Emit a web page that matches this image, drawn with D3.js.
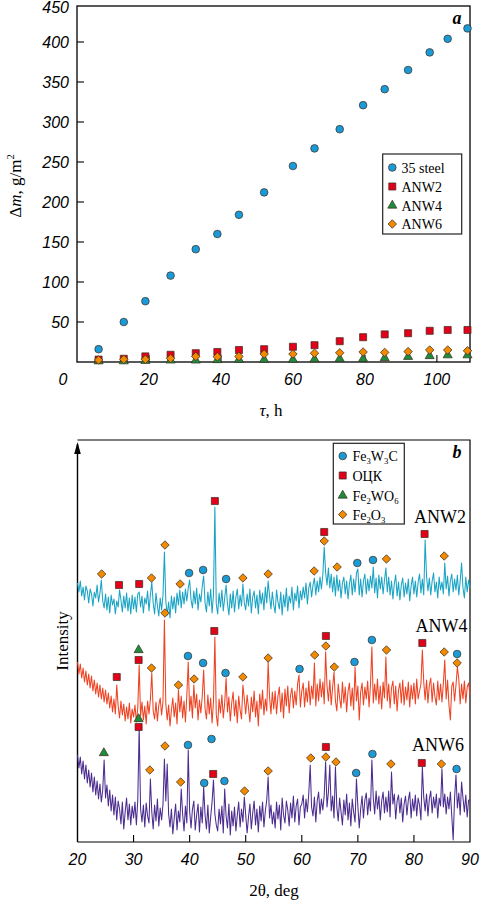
<!DOCTYPE html>
<html><head><meta charset="utf-8">
<script src="https://cdn.jsdelivr.net/npm/d3@7"></script>
<style>body{margin:0;background:#fff}svg{display:block}</style>
</head><body>
<script>
// ---------- Panel a data ----------
const tau = [6, 13, 19, 26, 33, 39, 45, 52, 60, 66, 73, 79.5, 85.5, 92, 98, 103, 108.5];
const steel35 = [16, 50, 76, 108, 141, 160, 184, 212, 245, 267, 291, 321, 341, 365, 387, 404, 417];
const anw2 = [3, 4, 7, 9, 11, 12.5, 15, 16, 19, 21, 26, 31, 34.5, 36, 39, 40, 40];
const anw4 = [1, 1, 1.5, 2, 2, 2.5, 3, 3, 3, 3.5, 4, 4, 5, 6.5, 7.5, 8.5, 8.5];
const anw6 = [2.5, 3.3, 3.3, 4.5, 7, 6.5, 7, 10, 10, 11, 11.5, 12.5, 12, 13, 15, 15, 14];
const seriesNamesA = ["35 steel", "ANW2", "ANW4", "ANW6"];
const xTicksA = [20, 40, 60, 80, 100];
const yTicksA = [50, 100, 150, 200, 250, 300, 350, 400];

// ---------- Panel b data (XRD, 2θ = 20..90 step 0.25) ----------
const thetaStart = 20, thetaStep = 0.25;
const xrdANW2 = [
39,30,41,26,35,22,36,31,19,33,28,16,30,24,37,20,29,42,21,14,
28,12,25,9,27,17,23,8,21,15,32,22,10,26,14,29,11,24,8,27,
13,25,10,28,30,15,26,9,24,18,31,11,27,40,19,8,29,16,6,24,
12,27,70,21,7,20,4,26,13,25,9,29,17,32,14,30,18,33,21,34,
42,22,14,31,18,34,12,28,20,36,46,19,10,30,16,33,9,27,115,18,
8,29,15,32,11,24,37,18,7,28,14,31,10,25,33,13,27,16,38,19,
12,28,16,33,9,25,31,14,27,8,32,18,29,12,35,19,41,26,13,30,
17,9,32,20,13,30,7,27,15,34,11,26,19,35,12,29,21,36,14,31,
22,35,24,39,18,34,40,25,37,44,27,41,30,45,33,47,75,50,37,54,
34,48,30,45,26,47,31,42,24,39,45,28,41,23,38,47,27,43,30,49,
53,27,43,25,41,48,28,43,31,46,34,55,29,44,24,47,33,45,28,42,
54,30,45,27,41,23,38,47,26,40,22,37,44,25,39,28,43,21,36,45,
28,41,25,40,48,29,43,27,82,46,31,44,27,41,49,30,40,24,45,32,
40,28,59,33,46,26,41,48,30,43,32,47,27,41,59,34,24,45,30,42,34];
const xrdANW4 = [
70,58,68,54,64,50,61,47,58,44,56,41,52,38,49,35,47,33,44,30,
42,28,39,24,36,20,33,18,47,26,14,31,17,28,11,25,13,29,9,23,
15,27,10,24,67,16,30,12,26,8,31,18,33,59,21,13,30,11,27,34,
17,31,112,28,12,27,6,22,34,15,29,8,42,20,36,14,31,10,37,70,
21,36,14,47,24,38,12,32,19,36,62,23,13,37,18,34,9,30,95,17,
6,33,19,37,14,29,54,20,35,11,29,40,16,32,9,36,22,13,47,33,
18,37,24,10,35,20,41,15,31,6,38,23,42,17,33,21,70,35,18,40,
23,41,18,36,45,20,39,14,43,26,46,19,37,44,24,41,27,48,57,25,
41,49,25,44,30,51,27,46,33,69,26,48,31,53,35,50,28,80,46,31,
52,27,45,60,31,21,48,34,24,50,29,45,20,41,49,26,44,22,65,31,
46,12,40,49,27,45,33,51,25,47,85,29,48,32,53,28,46,23,50,34,
75,31,48,24,44,51,28,46,21,42,49,29,52,27,45,32,50,25,47,33,
49,28,53,33,41,48,82,50,32,52,29,47,54,30,49,35,27,51,32,48,
30,49,72,33,52,27,12,46,50,31,47,65,53,28,48,33,51,29,45,49,37];
const xrdANW6 = [
87,74,85,68,81,63,77,59,72,55,69,50,65,47,61,43,58,40,52,82,
44,57,36,52,31,47,27,45,22,41,33,18,40,13,30,44,22,38,17,36,
24,40,17,42,115,33,20,37,15,39,26,19,63,30,13,37,21,43,16,34,
22,38,83,41,78,28,15,33,8,24,38,12,31,20,53,28,11,36,19,92,
31,14,33,41,12,27,38,10,35,19,55,27,13,37,9,25,40,62,28,17,
11,33,18,36,9,53,26,14,38,7,31,16,35,11,27,40,15,33,20,45,
27,9,25,38,13,29,41,17,33,10,36,21,40,15,31,42,65,24,37,18,
30,14,40,23,37,12,44,27,19,41,32,16,39,24,46,20,36,43,17,35,
38,47,24,43,30,49,77,35,26,45,20,41,50,28,43,32,47,80,35,50,
77,31,46,24,75,35,21,44,30,17,42,27,48,22,39,16,43,30,20,63,
36,14,33,46,24,42,49,27,44,31,82,44,28,51,33,46,22,41,50,29,
45,30,51,25,70,38,48,23,41,47,29,44,20,38,46,27,42,50,24,43,
31,47,26,44,37,22,75,45,31,48,26,43,51,29,45,34,48,24,44,36,
73,35,48,28,45,33,50,26,2,44,67,34,49,27,60,44,30,47,25,42,42];
const traceNames = ["ANW2", "ANW4", "ANW6"];
const traceOffsets = [220, 110, 0];

// phase markers: 2θ and level (same intensity units as the stacked traces)
const fe3w3cTheta = [39.9,42.4,46.5,69.9,72.7, 39.7,42.4,46.4,59.6,69.4,72.5,87.7, 39.7,43.9,42.6,46.2,69.7,72.6,87.6];
const fe3w3cLevel = [269,272,263,279,282, 186,179,169,173,180,202,188, 97,103,59,61,69,88,73];
const bccTheta = [27.4,31.0,44.5,64.0,81.9, 27.0,30.9,44.4,64.3,81.5, 30.9,44.2,64.3,81.4];
const bccLevel = [257,258,341,310,308, 165,182,211,206,199, 115,68,95,79];
const fe2wo6Theta = [30.9, 30.9, 24.7];
const fe2wo6Level = [192, 123, 89];
const fe2o3Theta = [24.3,33.2,35.6,38.3,49.5,54.0,62.2,64.0,66.3,75.1,85.4,
  35.6,33.2,38.0,40.8,49.5,54.0,62.3,64.3,65.8,75.1,85.4,87.7,
  35.6,32.9,38.4,49.8,54.0,61.6,64.3,66.1,75.9,84.9];
const fe2o3Level = [268,264,297,258,264,268,271,301,275,283,286,
  229,174,157,163,165,184,187,196,175,192,190,179,
  96,72,60,51,71,84,85,80,78,78];
const xTicksB = [20, 30, 40, 50, 60, 70, 80, 90];

// ---------- styles ----------
const C = {blue:"#1a9bd7", red:"#e2001a", green:"#1d8c3c", orange:"#f18a00",
  t2:"#19a3c4", t4:"#ee4323", t6:"#4b2c8f", mstroke:"#3b2b1e"};
const SANS = "'Liberation Sans', Arial, sans-serif";
const SERIF = "'Liberation Serif', 'Times New Roman', serif";
const shapes = {
  circle: d3.symbol(d3.symbolCircle, 46)(),
  square: d3.symbol(d3.symbolSquare, 50)(),
  tri: d3.symbol(d3.symbolTriangle, 36)(),
  diamond: d3.symbol(d3.symbolSquare, 36)()
};
function marker(g, shape, color, x, y) {
  g.append("path").attr("d", shapes[shape])
    .attr("transform", `translate(${x},${y})` + (shape === "diamond" ? " rotate(45)" : ""))
    .attr("fill", color).attr("stroke", C.mstroke).attr("stroke-width", 0.7);
}
function rich(t, parts, fs) {
  parts.forEach(([s, k]) => {
    const ts = t.append("tspan").text(s);
    if (k === "i") ts.attr("font-style", "italic");
    if (k === "sub") ts.attr("font-size", fs * 0.62).attr("dy", 3);
    if (k === "sup") ts.attr("font-size", fs * 0.62).attr("dy", -7);
    if (k === "back") ts.attr("dy", -3);
  });
}

const svg = d3.select("body").append("svg").attr("width", 480).attr("height", 901);

// =============== Panel a ===============
const xA = d3.scaleLinear().domain([0, 109.2]).range([77, 470]);
const yA = d3.scaleLinear().domain([0, 445]).range([362, 6]);
const gA = svg.append("g");

gA.append("rect").attr("x", xA(0)).attr("y", yA(445)).attr("width", xA(109.2) - xA(0))
  .attr("height", yA(0) - yA(445)).attr("fill", "none").attr("stroke", "#000").attr("stroke-width", 1.3);
yTicksA.forEach(v => {
  gA.append("line").attr("x1", xA(0)).attr("x2", xA(0) + 7).attr("y1", yA(v)).attr("y2", yA(v))
    .attr("stroke", "#000").attr("stroke-width", 1.1);
  gA.append("text").attr("x", 69).attr("y", yA(v) + 6).attr("text-anchor", "end")
    .attr("font-family", SANS).attr("font-style", "italic").attr("font-size", 16).text(v);
});
gA.append("text").attr("x", 69).attr("y", yA(445) + 6.5).attr("text-anchor", "end")
  .attr("font-family", SANS).attr("font-style", "italic").attr("font-size", 16).text("450");
xTicksA.forEach(v => {
  gA.append("line").attr("x1", xA(v)).attr("x2", xA(v)).attr("y1", yA(0)).attr("y2", yA(0) - 7)
    .attr("stroke", "#000").attr("stroke-width", 1.1);
  gA.append("text").attr("x", xA(v)).attr("y", 385).attr("text-anchor", "middle")
    .attr("font-family", SANS).attr("font-style", "italic").attr("font-size", 16).text(v);
});
gA.append("text").attr("x", xA(0) - 14).attr("y", 385).attr("text-anchor", "middle")
  .attr("font-family", SANS).attr("font-style", "italic").attr("font-size", 16).text("0");

// axis titles
const ty = gA.append("text").attr("transform", "translate(21,186) rotate(-90)")
  .attr("text-anchor", "middle").attr("font-family", SERIF).attr("font-size", 17);
rich(ty, [["Δ"], ["m", "i"], [", g/m"], ["2", "sup"]], 17);
const tx = gA.append("text").attr("x", 271).attr("y", 416).attr("text-anchor", "middle")
  .attr("font-family", SERIF).attr("font-size", 17);
rich(tx, [["τ", "i"], [", h"]], 17);
gA.append("text").attr("x", 457).attr("y", 24).attr("text-anchor", "middle")
  .attr("font-family", SERIF).attr("font-weight", "bold").attr("font-style", "italic")
  .attr("font-size", 18).text("a");

const seriesA = [
  {vals: steel35, shape: "circle", color: C.blue},
  {vals: anw2, shape: "square", color: C.red},
  {vals: anw4, shape: "tri", color: C.green},
  {vals: anw6, shape: "diamond", color: C.orange}
];
seriesA.forEach(s => s.vals.forEach((v, i) => marker(gA, s.shape, s.color, xA(tau[i]), yA(v))));

// legend a
gA.append("rect").attr("x", 382.7).attr("y", 154).attr("width", 79).attr("height", 80)
  .attr("fill", "#fff").attr("stroke", "#222").attr("stroke-width", 1.2);
const legY = [167.5, 186.5, 205.5, 224];
seriesA.forEach((s, i) => {
  marker(gA, s.shape, s.color, 392.3, legY[i]);
  gA.append("text").attr("x", 401.5).attr("y", legY[i] + 5).attr("font-family", SERIF)
    .attr("font-size", 14).text(seriesNamesA[i]);
});

// =============== Panel b ===============
const xB = d3.scaleLinear().domain([20, 90]).range([77.5, 470]);
const yB = d3.scaleLinear().domain([0, 402]).range([842, 440]);
const gB = svg.append("g");

gB.append("path").attr("d", `M${xB(20)},${yB(0)} L${xB(90)},${yB(0)} L${xB(90)},${yB(402)} L${xB(20)},${yB(402)}`)
  .attr("fill", "none").attr("stroke", "#000").attr("stroke-width", 1.2);
gB.append("line").attr("x1", xB(20)).attr("x2", xB(20)).attr("y1", yB(0)).attr("y2", yB(398))
  .attr("stroke", "#000").attr("stroke-width", 1.4);
gB.append("path").attr("d", `M${xB(20)},${yB(400)} L${xB(20) - 3.3},${yB(388)} L${xB(20) + 3.3},${yB(388)} Z`)
  .attr("fill", "#000");
xTicksB.forEach(v => {
  if (v > 20 && v < 90) gB.append("line").attr("x1", xB(v)).attr("x2", xB(v)).attr("y1", yB(0)).attr("y2", yB(0) - 7)
    .attr("stroke", "#000").attr("stroke-width", 1.1);
  gB.append("text").attr("x", xB(v)).attr("y", 865).attr("text-anchor", "middle")
    .attr("font-family", SANS).attr("font-style", "italic").attr("font-size", 16).text(v);
});
gB.append("text").attr("x", 274).attr("y", 896).attr("text-anchor", "middle")
  .attr("font-family", SERIF).attr("font-size", 17).text("2θ, deg");
gB.append("text").attr("transform", "translate(68,641) rotate(-90)").attr("text-anchor", "middle")
  .attr("font-family", SERIF).attr("font-size", 17).text("Intensity");
gB.append("text").attr("x", 457).attr("y", 458).attr("text-anchor", "middle")
  .attr("font-family", SERIF).attr("font-weight", "bold").attr("font-style", "italic")
  .attr("font-size", 18).text("b");

// traces
const traces = [xrdANW2, xrdANW4, xrdANW6];
const traceColors = [C.t2, C.t4, C.t6];
const line = d3.line().x(d => xB(d[0])).y(d => yB(d[1]));
[2, 1, 0].forEach(k => {
  const pts = traces[k].map((v, i) => [thetaStart + i * thetaStep, traceOffsets[k] + v]);
  gB.append("path").attr("d", line(pts)).attr("fill", "none").attr("stroke", traceColors[k])
    .attr("stroke-width", 1.05).attr("stroke-linejoin", "round");
});
const labelPos = [[440, 523], [441.5, 632], [438, 750.5]];
traceNames.forEach((n, k) => gB.append("text").attr("x", labelPos[k][0]).attr("y", labelPos[k][1])
  .attr("text-anchor", "middle").attr("font-family", SERIF).attr("font-size", 18).text(n));

// markers
fe3w3cTheta.forEach((t, i) => marker(gB, "circle", C.blue, xB(t), yB(fe3w3cLevel[i])));
bccTheta.forEach((t, i) => marker(gB, "square", C.red, xB(t), yB(bccLevel[i])));
fe2wo6Theta.forEach((t, i) => marker(gB, "tri", C.green, xB(t), yB(fe2wo6Level[i])));
fe2o3Theta.forEach((t, i) => marker(gB, "diamond", C.orange, xB(t), yB(fe2o3Level[i])));

// legend b
gB.append("rect").attr("x", 333.3).attr("y", 443.3).attr("width", 71).attr("height", 80.7)
  .attr("fill", "#fff").attr("stroke", "#222").attr("stroke-width", 1.2);
const legB = [
  {shape: "circle", color: C.blue, parts: [["Fe"], ["3", "sub"], ["W", "back"], ["3", "sub"], ["C", "back"]]},
  {shape: "square", color: C.red, parts: [["ОЦК"]]},
  {shape: "tri", color: C.green, parts: [["Fe"], ["2", "sub"], ["WO", "back"], ["6", "sub"]]},
  {shape: "diamond", color: C.orange, parts: [["Fe"], ["2", "sub"], ["O", "back"], ["3", "sub"]]}
];
const legBY = [456, 475.5, 495.5, 514.5];
legB.forEach((it, i) => {
  marker(gB, it.shape, it.color, 342.7, legBY[i]);
  const t = gB.append("text").attr("x", 352.5).attr("y", legBY[i] + 5).attr("font-family", SERIF).attr("font-size", 14);
  rich(t, it.parts, 14);
});
</script>
</body></html>
